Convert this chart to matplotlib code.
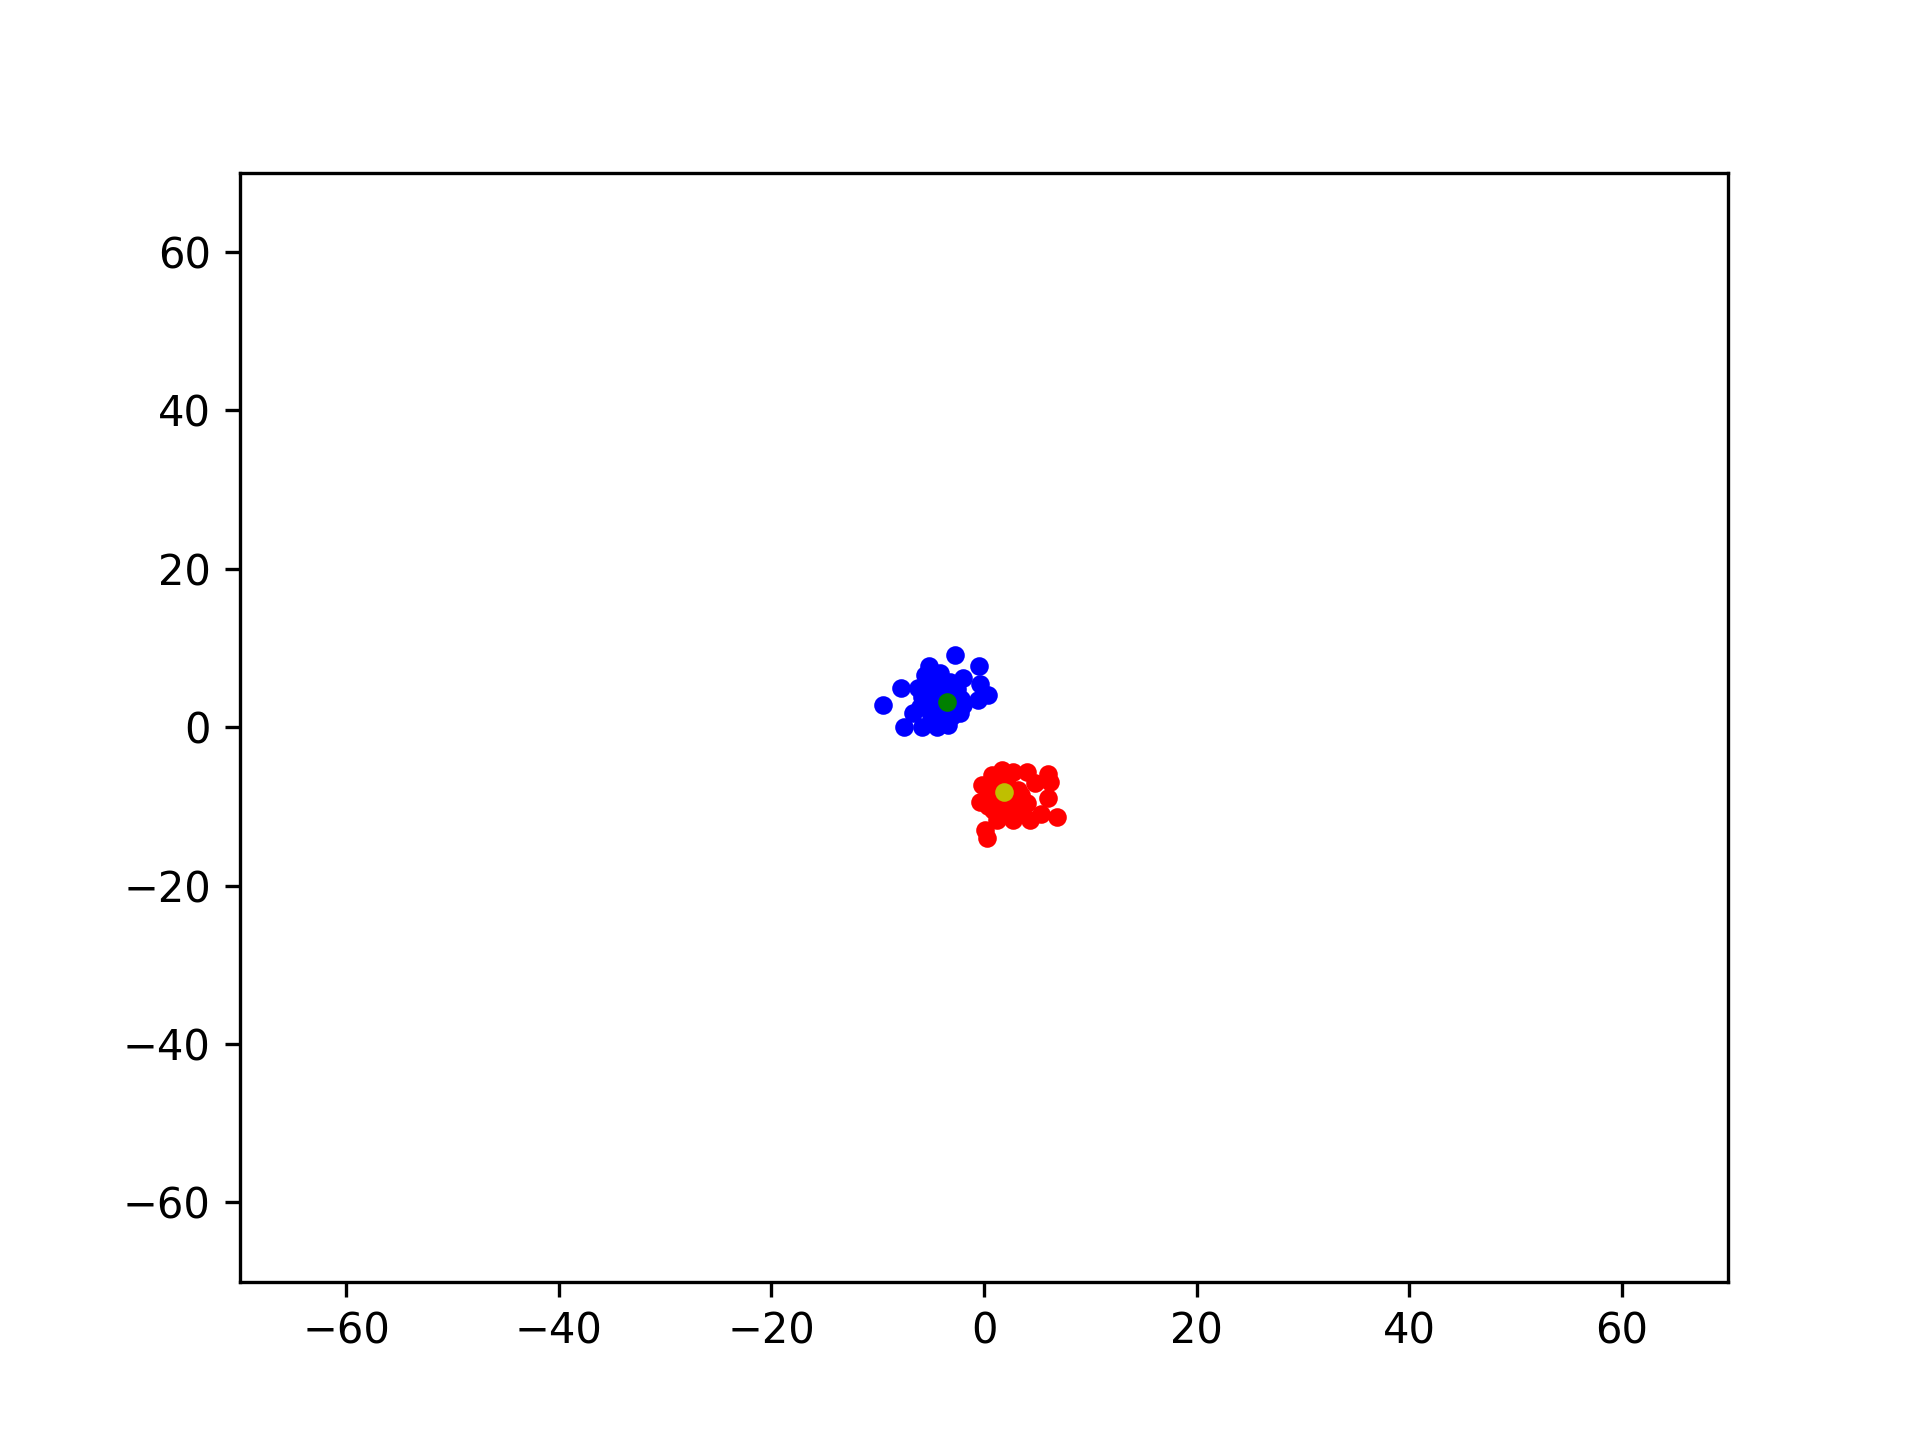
import matplotlib
matplotlib.use("Agg")
import matplotlib.pyplot as plt

blue_x = [-2.73, -0.44, -9.47, -7.8, -7.5, -5.14, 0.4, -0.38, -0.53, -5.86, -3.36, -6.65, -4.45,
          -1.94, -4.14, -5.55, -6.18, -2.26, -1.94, -3.2,
          -4.5, -5.0, -4.0, -3.0, -5.5, -2.5, -4.2, -3.8, -5.0, -2.8,
          -4.8, -3.4, -5.8, -4.6, -2.2, -3.6, -5.3, -6.0, -4.3, -3.0]
blue_y = [9.12, 7.73, 2.8, 4.9, 0.0, 7.73, 4.07, 5.5, 3.43, 0.06, 0.28, 1.83, 0.06,
          6.17, 6.8, 6.6, 4.9, 1.75, 2.8, 5.75,
          4.5, 3.0, 2.0, 4.0, 5.5, 4.8, 1.2, 5.2, 1.5, 2.2,
          6.0, 3.5, 3.8, 2.5, 3.6, 0.9, 4.2, 2.5, 5.8, 1.4]
red_x = [1.66, 4.0, 6.05, 6.2, 4.8, 6.05, 6.84, -0.22, -0.38, 0.1, 0.3, 1.2, 2.76, 4.33,
         5.4, 0.72, 2.76, 4.0, 0.88, 3.2,
         1.5, 2.5, 3.5, 1.0, 2.0, 3.0, 0.5,
         1.2, 2.2, 3.0, 0.4, 3.6, 2.0, 1.6]
red_y = [-5.4, -5.6, -5.9, -6.9, -7.1, -9.0, -11.3, -7.3, -9.4, -13.0, -14.0, -11.7, -11.7, -11.7,
         -10.9, -6.0, -5.6, -9.6, -10.5, -7.9,
         -9.0, -10.0, -8.5, -7.5, -6.5, -11.0, -8.5,
         -6.2, -7.2, -9.5, -10.0, -10.4, -11.0, -9.8]
centroid_blue = (-3.5, 3.2)
centroid_red = (1.91, -8.2)

fig = plt.figure(figsize=(6.4, 4.8), dpi=300)
ax = fig.add_subplot(111)
ax.scatter(blue_x, blue_y, c='b', s=12)
ax.scatter(red_x, red_y, c='r', s=12)
ax.scatter([centroid_blue[0]], [centroid_blue[1]], c='g', s=12)
ax.scatter([centroid_red[0]], [centroid_red[1]], c='y', s=12)
ax.set_xlim(-70, 70)
ax.set_ylim(-70, 70)
fig.savefig("out.png", dpi=300)
